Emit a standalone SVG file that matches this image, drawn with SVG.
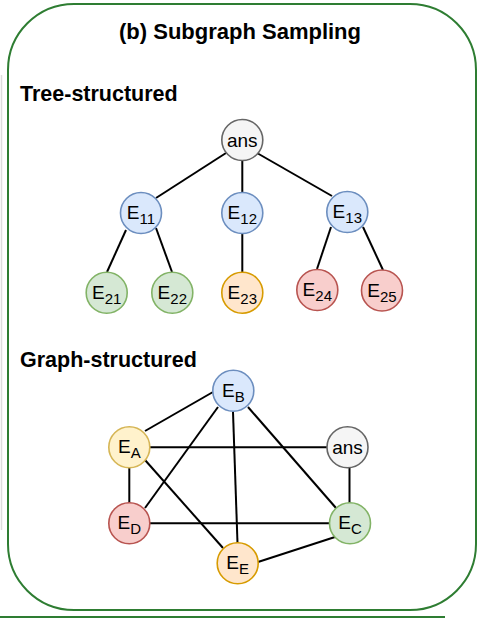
<svg xmlns="http://www.w3.org/2000/svg" width="483" height="618" viewBox="0 0 483 618">
<style>
text{font-family:"Liberation Sans",Arial,Helvetica,sans-serif;fill:#000}
.h{font-weight:bold;font-size:21.5px}
.t{font-weight:bold;font-size:22px}
.n{font-size:19px;text-anchor:middle}
.s{font-size:15px}
.e line{stroke:#000;stroke-width:2}
.blue{fill:#dae8fc;stroke:#6c8ebf;stroke-width:1.6}
.green{fill:#d5e8d4;stroke:#82b366;stroke-width:1.6}
.orange{fill:#ffe6cc;stroke:#d79b00;stroke-width:1.6}
.yellow{fill:#fff2cc;stroke:#d6b656;stroke-width:1.6}
.red{fill:#f8cecc;stroke:#b85450;stroke-width:1.6}
.gray{fill:#f5f5f5;stroke:#666666;stroke-width:1.6}
</style>
<rect width="483" height="618" fill="#fff"/>
<line x1="1.5" y1="75" x2="1.5" y2="530" stroke="#ddd" stroke-width="1.5"/>
<line x1="0" y1="617" x2="445" y2="617" stroke="#2e7d32" stroke-width="2"/>
<rect x="8" y="4" width="468" height="606" rx="66" ry="66" fill="none" stroke="#2e7d32" stroke-width="2"/>
<text class="t" x="240" y="39" text-anchor="middle">(b) Subgraph Sampling</text>
<text class="h" x="20" y="101">Tree-structured</text>
<text class="h" x="20" y="367">Graph-structured</text>
<g class="e" id="connectors">
<line x1="226" y1="153" x2="156" y2="198"/>
<line x1="242.3" y1="161" x2="242.3" y2="192"/>
<line x1="257" y1="153" x2="332" y2="196"/>
<line x1="126" y1="230" x2="107" y2="272"/>
<line x1="156" y1="228" x2="172" y2="272"/>
<line x1="242.3" y1="234" x2="242.3" y2="272"/>
<line x1="331" y1="227" x2="317" y2="269"/>
<line x1="363" y1="227" x2="383" y2="270"/>
<line x1="213" y1="392" x2="145" y2="431"/>
<line x1="218" y1="407" x2="145" y2="508"/>
<line x1="233" y1="412" x2="237.5" y2="543"/>
<line x1="248" y1="407" x2="336" y2="508"/>
<line x1="150" y1="447.3" x2="327" y2="447.3"/>
<line x1="129.3" y1="468" x2="129.3" y2="503"/>
<line x1="145" y1="460" x2="223" y2="548"/>
<line x1="150" y1="523.3" x2="330" y2="523.3"/>
<line x1="349.5" y1="468" x2="349.5" y2="503"/>
<line x1="258" y1="562" x2="335" y2="537"/>
</g>
<g id="t_ans"><circle class="gray" cx="242.3" cy="140" r="20.5"/><text class="n" x="242.3" y="146.5">ans</text></g>
<g id="E11"><circle class="blue" cx="141" cy="213" r="20.5"/><text class="n" x="141" y="219">E<tspan class="s" dy="5">11</tspan></text></g>
<g id="E12"><circle class="blue" cx="242.3" cy="213" r="20.5"/><text class="n" x="242.3" y="219">E<tspan class="s" dy="5">12</tspan></text></g>
<g id="E13"><circle class="blue" cx="347.3" cy="212" r="20.5"/><text class="n" x="347.3" y="218">E<tspan class="s" dy="5">13</tspan></text></g>
<g id="E21"><circle class="green" cx="106.7" cy="292.7" r="20.5"/><text class="n" x="106.7" y="298.5">E<tspan class="s" dy="5">21</tspan></text></g>
<g id="E22"><circle class="green" cx="172.3" cy="292.7" r="20.5"/><text class="n" x="172.3" y="298.5">E<tspan class="s" dy="5">22</tspan></text></g>
<g id="E23"><circle class="orange" cx="242.3" cy="292.7" r="20.5"/><text class="n" x="242.3" y="298.5">E<tspan class="s" dy="5">23</tspan></text></g>
<g id="E24"><circle class="red" cx="317.3" cy="290" r="20.5"/><text class="n" x="317.3" y="296">E<tspan class="s" dy="5">24</tspan></text></g>
<g id="E25"><circle class="red" cx="382" cy="290.5" r="20.5"/><text class="n" x="382" y="296.5">E<tspan class="s" dy="5">25</tspan></text></g>
<g id="EB"><circle class="blue" cx="233.3" cy="390.7" r="20.5"/><text class="n" x="233.3" y="396.5">E<tspan class="s" dy="5">B</tspan></text></g>
<g id="EA"><circle class="yellow" cx="129.3" cy="447.3" r="20.5"/><text class="n" x="129.3" y="453">E<tspan class="s" dy="5">A</tspan></text></g>
<g id="g_ans"><circle class="gray" cx="347.5" cy="447.3" r="20.5"/><text class="n" x="347.5" y="453.5">ans</text></g>
<g id="ED"><circle class="red" cx="129.3" cy="523.3" r="20.5"/><text class="n" x="129.3" y="529">E<tspan class="s" dy="5">D</tspan></text></g>
<g id="EC"><circle class="green" cx="350" cy="523.3" r="20.5"/><text class="n" x="350" y="529">E<tspan class="s" dy="5">C</tspan></text></g>
<g id="EE"><circle class="orange" cx="237.7" cy="563.3" r="20.5"/><text class="n" x="237.7" y="569">E<tspan class="s" dy="5">E</tspan></text></g>
</svg>
